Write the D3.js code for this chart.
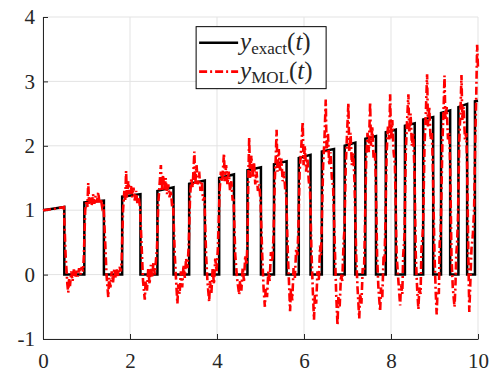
<!DOCTYPE html>
<html>
<head>
<meta charset="utf-8">
<script src="https://cdn.jsdelivr.net/npm/d3@7"></script>
<style>
  body { margin: 0; background: #fff; }
  svg { display: block; }
  text { font-family: "Liberation Serif", "DejaVu Serif", serif; fill: #262626; }
</style>
</head>
<body>
<svg id="chart" width="497" height="374"></svg>
<script>
// tick labels
const xTicks = [0, 2, 4, 6, 8, 10];
const yTicks = [-1, 0, 1, 2, 3, 4];

// exact solution: square pulses, rise/fall times and level at start/end of each pulse top
const riseT = [0, 0.95, 1.82, 2.63, 3.36, 4.05, 4.70, 5.31, 5.88, 6.41, 6.935, 7.41, 7.88, 8.32, 8.74, 9.15, 9.55, 9.93];
const fallT = [0.49, 1.40, 2.24, 3.00, 3.72, 4.39, 5.01, 5.60, 6.15, 6.69, 7.18, 7.655, 8.11, 8.545, 8.97, 9.36, 9.75, 10];
const topStart = [1.0, 1.12, 1.21, 1.30, 1.41, 1.50, 1.62, 1.715, 1.81, 1.91, 2.0, 2.11, 2.21, 2.31, 2.41, 2.51, 2.60, 2.69];
const topEnd = [1.05, 1.15, 1.25, 1.355, 1.46, 1.555, 1.665, 1.76, 1.86, 1.95, 2.05, 2.15, 2.25, 2.35, 2.445, 2.55, 2.65, 2.70];

// MOL approximation as (t, y)
const molData = [
  [0,1],[0.25,1.02],[0.48,1.05],
  [0.52,0.3],[0.56,-0.15],[0.58,-0.28],[0.60,-0.05],[0.62,-0.18],[0.65,0.05],[0.68,-0.1],[0.71,0.08],[0.74,-0.05],[0.77,0.06],[0.80,-0.03],[0.83,0.1],[0.86,0.0],[0.89,0.12],[0.92,0.05],[0.94,0.3],
  [0.97,1.0],[1.0,1.15],[1.02,1.05],[1.04,1.42],[1.06,1.1],[1.09,1.2],[1.12,1.08],[1.15,1.25],[1.18,1.1],[1.21,1.22],[1.24,1.12],[1.27,1.28],[1.30,1.1],[1.33,1.18],[1.36,1.05],[1.39,1.1],
  [1.43,0.5],[1.46,0.0],[1.50,-0.35],[1.52,-0.05],[1.55,-0.2],[1.58,0.05],[1.61,-0.12],[1.64,0.1],[1.67,-0.05],[1.70,0.08],[1.73,-0.02],[1.76,0.12],[1.79,0.05],[1.81,0.25],
  [1.84,1.0],[1.87,1.3],[1.89,1.15],[1.91,1.61],[1.93,1.2],[1.96,1.45],[1.99,1.25],[2.02,1.4],[2.05,1.2],[2.08,1.35],[2.11,1.15],[2.14,1.3],[2.17,1.1],[2.20,1.2],[2.23,1.05],
  [2.27,0.4],[2.30,-0.1],[2.34,-0.39],[2.36,-0.1],[2.39,-0.25],[2.42,0.1],[2.45,-0.15],[2.48,0.15],[2.51,-0.05],[2.54,0.2],[2.57,0.0],[2.60,0.25],[2.62,0.4],
  [2.65,1.1],[2.68,1.4],[2.71,1.70],[2.73,1.3],[2.76,1.55],[2.79,1.3],[2.82,1.5],[2.85,1.25],[2.88,1.4],[2.91,1.2],[2.94,1.3],[2.97,1.05],[2.99,1.1],
  [3.03,0.3],[3.06,-0.1],[3.09,-0.45],[3.11,-0.15],[3.14,-0.3],[3.17,0.05],[3.20,-0.2],[3.23,0.15],[3.26,-0.05],[3.29,0.25],[3.32,0.1],[3.35,0.45],
  [3.38,1.2],[3.41,1.5],[3.44,1.35],[3.48,1.91],[3.50,1.4],[3.53,1.7],[3.56,1.4],[3.59,1.6],[3.62,1.3],[3.65,1.45],[3.68,1.15],[3.71,1.2],
  [3.75,0.3],[3.78,-0.1],[3.82,-0.42],[3.84,-0.1],[3.87,-0.3],[3.90,0.1],[3.93,-0.15],[3.96,0.25],[3.99,0.05],[4.02,0.4],
  [4.06,1.3],[4.09,1.6],[4.12,1.45],[4.16,1.88],[4.18,1.45],[4.21,1.7],[4.24,1.4],[4.27,1.6],[4.30,1.3],[4.33,1.45],[4.36,1.15],[4.38,1.2],
  [4.42,0.3],[4.46,-0.05],[4.51,-0.31],[4.53,-0.1],[4.56,-0.25],[4.59,0.1],[4.62,-0.1],[4.65,0.3],[4.68,0.15],[4.70,0.5],
  [4.72,1.5],[4.74,2.13],[4.76,1.5],[4.79,1.85],[4.82,1.5],[4.85,1.75],[4.88,1.4],[4.91,1.6],[4.94,1.3],[4.97,1.4],[5.00,1.15],
  [5.04,0.3],[5.07,-0.2],[5.10,-0.50],[5.12,-0.2],[5.15,-0.35],[5.18,0.05],[5.21,-0.1],[5.24,0.35],[5.27,0.2],[5.30,0.6],
  [5.33,1.5],[5.35,1.8],[5.37,2.25],[5.39,1.6],[5.42,1.95],[5.45,1.6],[5.48,1.8],[5.51,1.45],[5.54,1.6],[5.57,1.3],[5.59,1.25],
  [5.63,0.3],[5.66,-0.2],[5.68,-0.57],[5.70,-0.2],[5.73,-0.4],[5.76,0.1],[5.79,-0.05],[5.82,0.4],[5.85,0.3],[5.87,0.7],
  [5.90,1.6],[5.93,1.9],[5.97,2.37],[5.99,1.7],[6.02,2.0],[6.05,1.6],[6.08,1.8],[6.11,1.45],[6.14,1.3],
  [6.17,0.4],[6.20,-0.2],[6.23,-0.70],[6.25,-0.3],[6.28,-0.45],[6.31,0.05],[6.34,-0.1],[6.37,0.45],[6.39,0.3],[6.41,0.8],
  [6.44,1.7],[6.47,2.1],[6.50,2.72],[6.52,1.9],[6.55,2.2],[6.58,1.7],[6.61,1.9],[6.64,1.5],[6.67,1.35],
  [6.71,0.4],[6.74,-0.3],[6.77,-0.79],[6.79,-0.35],[6.82,-0.5],[6.85,0.0],[6.88,-0.1],[6.91,0.5],[6.93,0.7],
  [6.96,1.7],[6.99,2.2],[7.02,2.66],[7.04,1.9],[7.07,2.2],[7.10,1.7],[7.13,1.9],[7.16,1.45],
  [7.20,0.3],[7.23,-0.2],[7.27,-0.68],[7.29,-0.3],[7.32,-0.45],[7.35,0.1],[7.38,0.05],[7.40,0.7],
  [7.43,1.8],[7.46,2.2],[7.49,1.9],[7.52,2.68],[7.54,2.0],[7.57,2.3],[7.60,1.8],[7.63,1.9],[7.65,1.5],
  [7.68,0.3],[7.71,-0.2],[7.75,-0.57],[7.77,-0.2],[7.80,-0.35],[7.83,0.3],[7.85,0.2],[7.87,0.75],
  [7.90,1.9],[7.93,2.3],[7.96,2.1],[7.98,2.80],[8.00,2.1],[8.03,2.4],[8.06,1.9],[8.09,1.7],
  [8.13,0.3],[8.17,-0.1],[8.21,-0.48],[8.23,-0.15],[8.26,-0.3],[8.28,0.3],[8.30,0.5],[8.31,0.6],
  [8.34,1.9],[8.37,2.4],[8.40,2.80],[8.42,2.2],[8.45,2.5],[8.48,2.0],[8.51,2.2],[8.54,1.6],
  [8.57,0.3],[8.60,-0.2],[8.63,-0.54],[8.65,-0.2],[8.68,-0.3],[8.70,0.4],[8.72,0.55],[8.74,0.8],
  [8.77,2.0],[8.80,2.5],[8.83,3.11],[8.85,2.3],[8.88,2.6],[8.91,2.1],[8.94,2.2],[8.96,1.7],
  [9.00,0.3],[9.03,-0.3],[9.05,-0.62],[9.07,-0.25],[9.10,-0.3],[9.12,0.5],[9.14,0.6],[9.15,0.9],
  [9.18,2.0],[9.21,2.6],[9.23,3.09],[9.25,2.4],[9.28,2.6],[9.31,2.1],[9.34,2.2],[9.36,1.7],
  [9.39,0.3],[9.42,-0.2],[9.46,-0.50],[9.48,-0.2],[9.50,0.3],[9.52,0.5],[9.54,0.9],
  [9.57,2.1],[9.60,2.6],[9.62,3.10],[9.64,2.4],[9.67,2.6],[9.70,2.1],[9.73,2.2],[9.75,1.7],
  [9.78,0.2],[9.80,-0.58],[9.82,-0.2],[9.85,0.4],[9.88,0.6],[9.91,1.0],
  [9.94,2.2],[9.96,2.8],[9.98,3.57],[10.0,3.2]
];

// build exact curve vertices from the pulse table
const exactData = [];
riseT.forEach((r, i) => {
  if (i > 0) { exactData.push([r, 0]); }
  exactData.push([r, topStart[i]]);
  exactData.push([fallT[i], topEnd[i]]);
  if (i < riseT.length - 1) { exactData.push([fallT[i], 0]); }
});

const margin = { top: 17, right: 19, bottom: 35, left: 43 };
const width = 497 - margin.left - margin.right;
const height = 374 - margin.top - margin.bottom;

const svg = d3.select('#chart')
  .append('g')
  .attr('transform', `translate(${margin.left},${margin.top})`);

const x = d3.scaleLinear().domain([0, 10]).range([0, width]);
const y = d3.scaleLinear().domain([-1, 4]).range([height, 0]);

// grid
svg.append('g')
  .selectAll('line.gx')
  .data(xTicks)
  .enter()
  .append('line')
  .attr('x1', d => x(d)).attr('x2', d => x(d))
  .attr('y1', 0).attr('y2', height)
  .attr('stroke', '#e3e3e3').attr('stroke-width', 1);

svg.append('g')
  .selectAll('line.gy')
  .data(yTicks)
  .enter()
  .append('line')
  .attr('x1', 0).attr('x2', width)
  .attr('y1', d => y(d)).attr('y2', d => y(d))
  .attr('stroke', '#e3e3e3').attr('stroke-width', 1);

// axes with inward ticks
const xAxis = svg.append('g')
  .attr('transform', `translate(0,${height})`)
  .call(d3.axisBottom(x).tickValues(xTicks).tickFormat(d => String(d))
    .tickSize(-5).tickSizeOuter(0).tickPadding(14));

const yAxis = svg.append('g')
  .call(d3.axisLeft(y).tickValues(yTicks).tickFormat(d => String(d))
    .tickSize(-5).tickSizeOuter(0).tickPadding(8));

[xAxis, yAxis].forEach(a => {
  a.select('.domain').attr('stroke', '#262626');
  a.selectAll('.tick line').attr('stroke', '#262626');
  a.selectAll('.tick text')
    .attr('font-family', '"Liberation Serif", serif')
    .attr('font-size', 21)
    .attr('fill', '#262626');
});
xAxis.selectAll('.tick text').attr('dy', '0.71em');

const line = d3.line()
  .x(d => x(d[0]))
  .y(d => y(d[1]));

// exact solution
svg.append('path')
  .datum(exactData)
  .attr('fill', 'none')
  .attr('stroke', '#000')
  .attr('stroke-width', 2.5)
  .attr('stroke-linejoin', 'miter')
  .attr('d', line);

// MOL approximation
const molDash = '8,3,2,3';
svg.append('path')
  .datum(molData)
  .attr('fill', 'none')
  .attr('stroke', '#ff0000')
  .attr('stroke-width', 2.6)
  .attr('stroke-dasharray', molDash)
  .attr('d', line);

// legend
const legend = svg.append('g')
  .attr('transform', `translate(${x(3.52)},${y(3.85)})`);

legend.append('rect')
  .attr('width', 130).attr('height', 62)
  .attr('fill', '#fff').attr('stroke', '#000').attr('stroke-width', 1);

const entries = [
  { sub: 'exact', color: '#000', dash: null, w: 2.5 },
  { sub: 'MOL', color: '#ff0000', dash: molDash, w: 2.6 }
];

entries.forEach((e, i) => {
  const cy = 16 + i * 29;
  legend.append('line')
    .attr('x1', 3).attr('x2', 42)
    .attr('y1', cy).attr('y2', cy)
    .attr('stroke', e.color).attr('stroke-width', e.w)
    .attr('stroke-dasharray', e.dash);
  const t = legend.append('text')
    .attr('x', 44).attr('y', cy + 7)
    .attr('font-size', 25)
    .attr('fill', '#000');
  t.append('tspan').attr('font-style', 'italic').text('y');
  t.append('tspan').attr('font-size', 17).attr('dy', 4).text(e.sub);
  t.append('tspan').attr('dy', -4).text('(');
  t.append('tspan').attr('font-style', 'italic').text('t');
  t.append('tspan').text(')');
});
</script>
</body>
</html>
